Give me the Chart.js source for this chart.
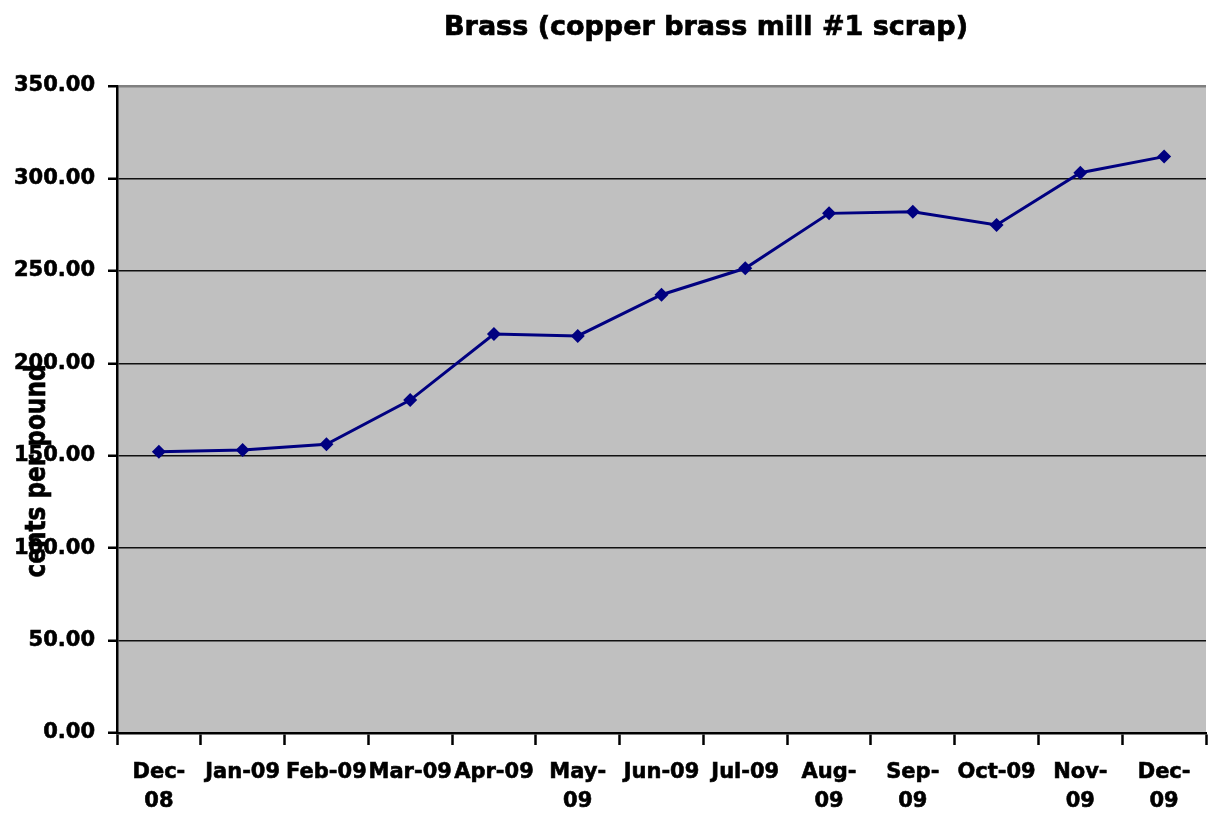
<!DOCTYPE html>
<html>
<head>
<meta charset="utf-8">
<title>Brass (copper brass mill #1 scrap)</title>
<script src="https://cdn.jsdelivr.net/npm/chart.js@4.4.1/dist/chart.umd.min.js"></script>
<style>
  html, body { margin: 0; padding: 0; background: #fff; overflow: hidden; }
  canvas { display: block; }
</style>
</head>
<body>
<canvas id="brassChart" width="1213" height="817"></canvas>
<script>
// --- Data ---
const months = ['Dec-08', 'Jan-09', 'Feb-09', 'Mar-09', 'Apr-09', 'May-09', 'Jun-09',
                'Jul-09', 'Aug-09', 'Sep-09', 'Oct-09', 'Nov-09', 'Dec-09'];
const monthLabels = [['Dec-', '08'], 'Jan-09', 'Feb-09', 'Mar-09', 'Apr-09', ['May-', '09'], 'Jun-09',
                     'Jul-09', ['Aug-', '09'], ['Sep-', '09'], 'Oct-09', ['Nov-', '09'], ['Dec-', '09']];
const prices = [152.2, 153.1, 156.2, 180.1, 215.8, 214.8, 237.1, 251.4, 281.1, 282.0, 274.8, 303.1, 311.8];
const yMin = 0;
const yMax = 350;
const yStep = 50;

const chartTitle = 'Brass (copper brass mill #1 scrap)';
const yTitle = 'cents per pound';

Chart.defaults.font.family = '"DejaVu Sans", sans-serif';
Chart.defaults.font.weight = 'bold';
Chart.defaults.color = '#000';

// plot area background + white canvas
const plotBackground = {
    id: 'plotBackground',
    beforeDraw(chart) {
        const { ctx, chartArea: a } = chart;
        ctx.save();
        ctx.fillStyle = '#fff';
        ctx.fillRect(0, 0, chart.width, chart.height);
        ctx.fillStyle = '#c0c0c0';
        ctx.fillRect(a.left, a.top, a.right - a.left, a.bottom - a.top);
        ctx.restore();
    }
};

// title and y axis title, drawn like the Excel original (label overlaps ticks)
const excelTitles = {
    id: 'excelTitles',
    afterDraw(chart) {
        const { ctx } = chart;
        ctx.save();
        ctx.fillStyle = '#000';
        ctx.strokeStyle = '#000';
        ctx.lineWidth = 0.7;
        ctx.font = 'bold 27px "DejaVu Sans"';
        ctx.textAlign = 'center';
        ctx.textBaseline = 'middle';
        ctx.fillText(chartTitle, 706, 28);
        ctx.strokeText(chartTitle, 706, 28);

        ctx.font = 'bold 28px "DejaVu Sans"';
        const w = ctx.measureText(yTitle).width;
        ctx.translate(45, 471);
        ctx.rotate(-Math.PI / 2);
        ctx.scale(213 / w, 1);
        ctx.textBaseline = 'alphabetic';
        ctx.fillText(yTitle, 0, 0);
        ctx.strokeText(yTitle, 0, 0);
        ctx.restore();
    }
};

const ctx = document.getElementById('brassChart');
new Chart(ctx, {
    type: 'line',
    data: {
        labels: months,
        datasets: [{
            label: 'Brass',
            data: prices,
            borderColor: '#000080',
            backgroundColor: '#000080',
            borderWidth: 3,
            pointStyle: 'rectRot',
            pointRadius: 7,
            pointHoverRadius: 7,
            pointBorderWidth: 0,
            tension: 0
        }]
    },
    options: {
        responsive: false,
        animation: false,
        devicePixelRatio: 1,
        layout: { padding: { top: 86, right: 2, left: 0, bottom: 0 } },
        plugins: {
            legend: { display: false },
            title: { display: false },
            tooltip: { enabled: false }
        },
        scales: {
            x: {
                offset: true,
                grid: {
                    offset: true,
                    drawOnChartArea: false,
                    drawTicks: true,
                    tickLength: 12,
                    tickWidth: 2.5,
                    color: '#000'
                },
                border: { display: true, color: '#000', width: 2.5 },
                ticks: {
                    autoSkip: false,
                    maxRotation: 0,
                    minRotation: 0,
                    padding: 13,
                    textStrokeColor: '#000',
                    textStrokeWidth: 0.6,
                    font: { size: 21, weight: 'bold', lineHeight: 1.38 },
                    callback: (val, i) => monthLabels[i]
                },
                afterFit: (scale) => { scale.height = 84; }
            },
            y: {
                min: yMin,
                max: yMax,
                grid: {
                    color: (c) => (c.tick && c.tick.value === yMax ? '#808080' : '#111'),
                    lineWidth: (c) => (c.tick && c.tick.value === yMax ? 2.5 : 1.5),
                    tickLength: 9,
                    tickWidth: 2.5,
                    tickColor: '#000'
                },
                border: { display: true, color: '#000', width: 2.5 },
                ticks: {
                    stepSize: yStep,
                    padding: 13,
                    textStrokeColor: '#000',
                    textStrokeWidth: 0.6,
                    font: { size: 21, weight: 'bold' },
                    callback: (v) => Number(v).toFixed(2)
                },
                afterFit: (scale) => { scale.width = 117; }
            }
        }
    },
    plugins: [plotBackground, excelTitles]
});
</script>
</body>
</html>
